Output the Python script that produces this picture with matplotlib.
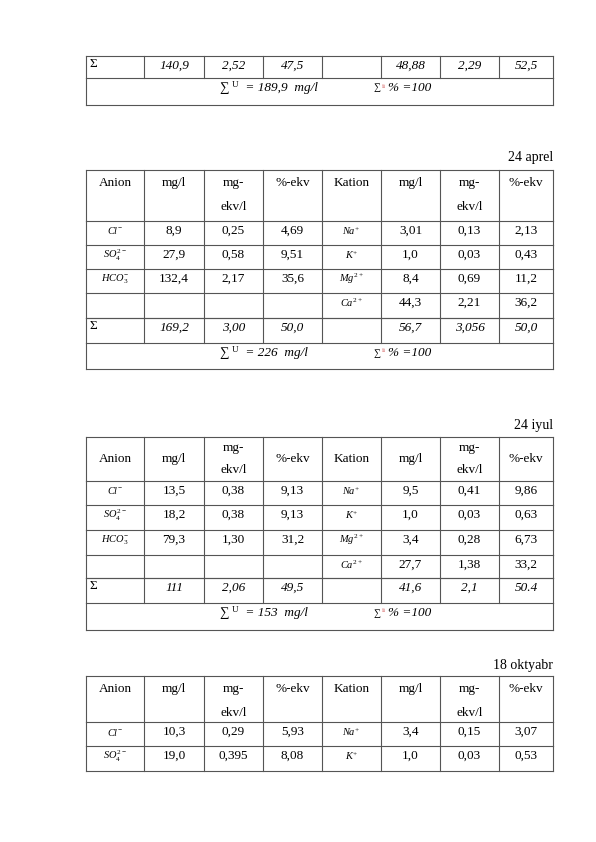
import matplotlib.pyplot as plt

plt.rcParams['font.family'] = ['Liberation Serif', 'DejaVu Serif']
plt.rcParams['mathtext.fontset'] = 'custom'
plt.rcParams['mathtext.it'] = 'Liberation Serif:italic'
plt.rcParams['mathtext.rm'] = 'Liberation Serif'

headers = ['Anion', 'mg/l', 'mg-\nekv/l', '%-ekv', 'Kation', 'mg/l', 'mg-\nekv/l', '%-ekv']
anions = [r'$Cl^{-}$', r'$SO_4^{2-}$', r'$HCO_3^{-}$', '']
cations = [r'$Na^{+}$', r'$K^{+}$', r'$Mg^{2+}$', r'$Ca^{2+}$']

# table 1 (end of previous table)
t1_sum = ['140,9', '2,52', '47,5', '', '48,88', '2,29', '52,5']
t1_total = ('189,9', '100')

# 24 aprel
apr_an = [['8,9', '0,25', '4,69'], ['27,9', '0,58', '9,51'], ['132,4', '2,17', '35,6'], ['', '', '']]
apr_cat = [['3,01', '0,13', '2,13'], ['1,0', '0,03', '0,43'], ['8,4', '0,69', '11,2'], ['44,3', '2,21', '36,2']]
apr_sum = ['169,2', '3,00', '50,0', '', '56,7', '3,056', '50,0']
apr_total = ('226', '100')

# 24 iyul
iyul_an = [['13,5', '0,38', '9,13'], ['18,2', '0,38', '9,13'], ['79,3', '1,30', '31,2'], ['', '', '']]
iyul_cat = [['9,5', '0,41', '9,86'], ['1,0', '0,03', '0,63'], ['3,4', '0,28', '6,73'], ['27,7', '1,38', '33,2']]
iyul_sum = ['111', '2,06', '49,5', '', '41,6', '2,1', '50.4']
iyul_total = ('153', '100')

# 18 oktyabr (partial)
okt_an = [['10,3', '0,29', '5,93'], ['19,0', '0,395', '8,08']]
okt_cat = [['3,4', '0,15', '3,07'], ['1,0', '0,03', '0,53']]

xs = [86, 144, 204, 263, 322, 381, 440, 499, 553]
fs = 9.5
lc = '#555555'

fig = plt.figure(figsize=(5.96, 8.42), dpi=100)
ax = fig.add_axes([0, 0, 1, 1])
ax.set_xlim(0, 596)
ax.set_ylim(842, 0)
ax.axis('off')


def hline(y, x0=xs[0], x1=xs[-1]):
    ax.plot([x0, x1], [y, y], color=lc, lw=0.8)


def vlines(y0, y1):
    for x in xs:
        ax.plot([x, x], [y0, y1], color=lc, lw=0.8)


def cx(i):
    return (xs[i] + xs[i + 1]) / 2


def header(y0, y1, centered):
    hline(y0)
    vlines(y0, y1)
    for i, h in enumerate(headers):
        if centered:
            if '\n' in h:
                a, b = h.split('\n')
                ax.text(cx(i), (y0 + y1) / 2 - 11, a, ha='center', va='center', fontsize=fs)
                ax.text(cx(i), (y0 + y1) / 2 + 11, b, ha='center', va='center', fontsize=fs)
            else:
                ax.text(cx(i), (y0 + y1) / 2, h, ha='center', va='center', fontsize=fs)
        else:
            a, *b = h.split('\n')
            ax.text(cx(i), y0 + 13, a, ha='center', va='center', fontsize=fs)
            if b:
                ax.text(cx(i), y0 + 37, b[0], ha='center', va='center', fontsize=fs)


def data_rows(ys, an, cat):
    for r in range(len(an)):
        y0, y1 = ys[r], ys[r + 1]
        hline(y0)
        vlines(y0, y1)
        yc = y0 + 10
        ax.text(cx(0), yc, anions[r], ha='center', va='center', fontsize=7.5)
        ax.text(cx(4), yc, cations[r], ha='center', va='center', fontsize=7.5)
        for j in range(3):
            ax.text(cx(1 + j), yc, an[r][j], ha='center', va='center', fontsize=fs)
            ax.text(cx(5 + j), yc, cat[r][j], ha='center', va='center', fontsize=fs)
    hline(ys[-1])


def sum_rows(y0, y1, y2, vals, total):
    hline(y0)
    vlines(y0, y1)
    ax.text(xs[0] + 3, y0 + 8, r'$\Sigma$', ha='left', va='center', fontsize=fs)
    for j, v in enumerate(vals):
        ax.text(cx(1 + j), y0 + 10, v, ha='center', va='center', fontsize=fs, style='italic')
    hline(y1)
    for x in (xs[0], xs[-1]):
        ax.plot([x, x], [y1, y2], color=lc, lw=0.8)
    yc = y1 + 10
    ax.text(230, yc, r'$\sum$', ha='right', va='center', fontsize=fs)
    ax.text(232, yc - 3, 'U', ha='left', va='center', fontsize=6.5)
    ax.text(242, yc, ' = ' + total[0] + '  mg/l', ha='left', va='center', fontsize=fs, style='italic')
    ax.text(381, yc, r'$\sum$', ha='right', va='center', fontsize=7)
    ax.text(382, yc - 2, 'ii', ha='left', va='center', fontsize=5, color='#cc4444')
    ax.text(388, yc, '% =' + total[1], ha='left', va='center', fontsize=fs, style='italic')
    hline(y2)


def title(y, s):
    ax.text(553, y, s, ha='right', va='center', fontsize=10)


# first fragment
sum_rows(56, 78, 105, t1_sum, t1_total)

# 24 aprel
title(158, '24 aprel')
header(170, 221, False)
data_rows([221, 245, 269, 293, 318], apr_an, apr_cat)
sum_rows(318, 343, 369, apr_sum, apr_total)

# 24 iyul
title(425, '24 iyul')
header(437, 481, True)
data_rows([481, 505, 530, 555, 578], iyul_an, iyul_cat)
sum_rows(578, 603, 630, iyul_sum, iyul_total)

# 18 oktyabr
title(665, '18 oktyabr')
header(676, 722, False)
data_rows([722, 746, 771], okt_an, okt_cat)

fig.savefig('out.png', dpi=100)
